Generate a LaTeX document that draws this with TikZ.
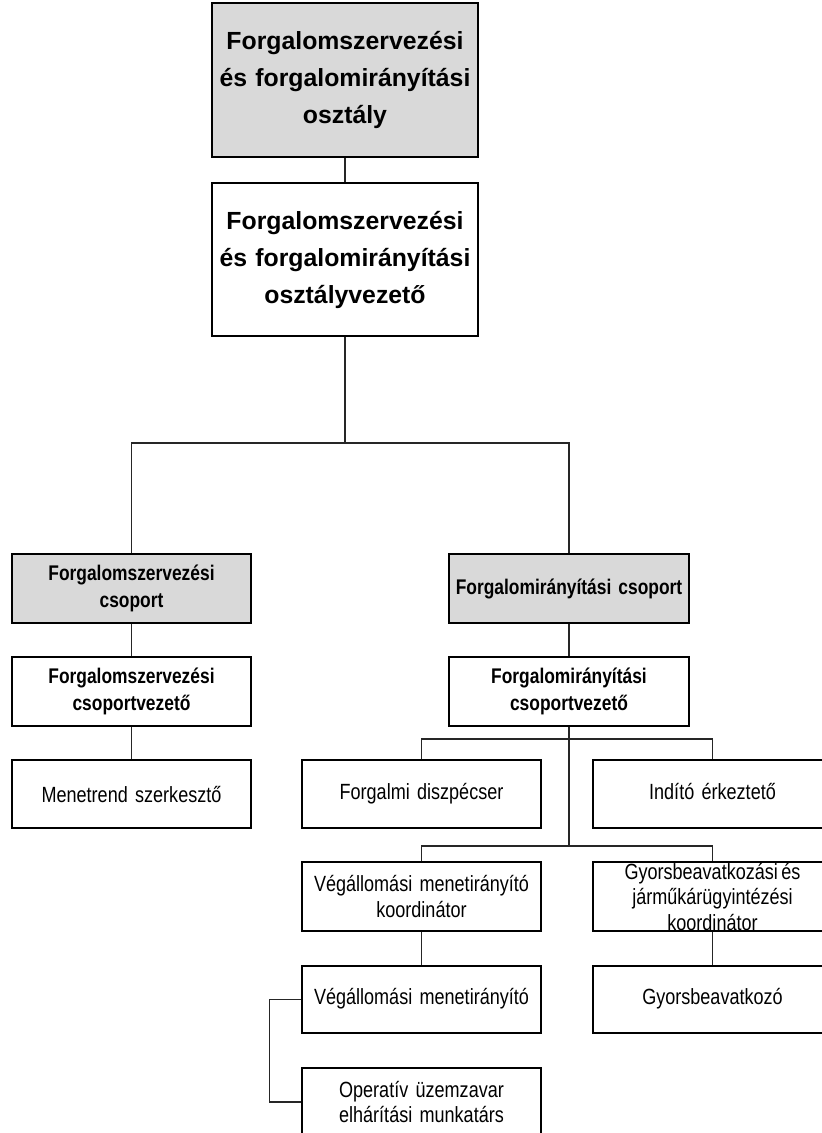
\documentclass[tikz,border=0pt]{standalone}
\usepackage{fontspec}
\setmainfont{Liberation Sans}
\newfontfamily\narrowfont[FakeStretch=0.82,WordSpace=0.7]{Liberation Sans}
\definecolor{boxgray}{HTML}{D9D9D9}
\definecolor{linegray}{HTML}{262626}
\begin{document}
\begin{tikzpicture}[x=1pt,y=-1pt,
  box/.style={draw=black,line width=1.1pt,rectangle,inner sep=0pt,align=center,text=black},
  graybox/.style={box,fill=boxgray},
  topfont/.style={font=\fontsize{24.8}{37}\selectfont\bfseries},
  grpfont/.style={font=\narrowfont\fontsize{21.2}{27}\selectfont\bfseries},
  smallfont/.style={font=\narrowfont\fontsize{22}{25.5}\selectfont},
  bigbox/.style={minimum width=266pt,text width=262pt},
  midbox/.style={minimum width=239pt,text width=235pt,minimum height=69pt},
  conn/.style={draw=linegray,line width=1.1pt}
]
\useasboundingbox (0,0) rectangle (822,1133);
\clip (0,0) rectangle (822,1133);

% top
\node[graybox,bigbox,topfont,minimum height=154pt] (top) at (345,80)
  {Forgalomszervezési\\és forgalomirányítási\\osztály};
\node[box,bigbox,topfont,minimum height=153pt] (mgr) at (345,259.5)
  {Forgalomszervezési\\és forgalomirányítási\\osztályvezető};

% left branch
\node[graybox,midbox,grpfont] (lg) at (131.5,588.5) {Forgalomszervezési\\csoport};
\node[box,midbox,grpfont] (lm) at (131.5,691.5) {Forgalomszervezési\\csoportvezető};
\node[box,midbox,smallfont,minimum height=68pt] (men) at (131.5,794) {Menetrend szerkesztő};

% right branch
\node[graybox,midbox,grpfont,minimum width=240pt] (rg) at (569,588.5) {Forgalomirányítási csoport};
\node[box,midbox,grpfont,minimum width=240pt] (rm) at (569,691.5) {Forgalomirányítási\\csoportvezető};

\node[box,midbox,smallfont,minimum height=68pt] (fd) at (421.5,794) {Forgalmi diszpécser\strut};
\node[box,midbox,smallfont,minimum height=68pt] (ie) at (712.5,794) {Indító érkeztető\strut};

\node[box,midbox,smallfont] (vk) at (421.5,896.5) {Végállomási menetirányító\\koordinátor};
\node[box,midbox,label={[smallfont,align=center,inner sep=0pt]center:{Gyorsbeavatkozási és\\járműkárügyintézési\\koordinátor}}] (gk) at (712.5,896.5) {};

\node[box,midbox,smallfont,minimum height=67pt] (vm) at (421.5,999.5) {Végállomási menetirányító\strut};
\node[box,midbox,smallfont,minimum height=67pt] (gb) at (712.5,999.5) {Gyorsbeavatkozó\strut};

\node[box,midbox,smallfont,minimum height=68pt] (op) at (421.5,1102) {Operatív üzemzavar\\elhárítási munkatárs};

% junctions
\coordinate (j1) at (345,443);
\coordinate (j2) at (569,739);
\coordinate (j3) at (569,846);

% connectors
\draw[conn] (top.south) -- (mgr.north);
\draw[conn] (mgr.south) -- (j1);
\draw[conn] (lg.north) |- (j1) -| (rg.north);
\draw[conn] (lg.south) -- (lm.north);
\draw[conn] (lm.south) -- (men.north);
\draw[conn] (rg.south) -- (rm.north);
\draw[conn] (rm.south) -- (j3);
\draw[conn] (fd.north) |- (j2) -| (ie.north);
\draw[conn] (vk.north) |- (j3) -| (gk.north);
\draw[conn] (vk.south) -- (vm.north);
\draw[conn] (gk.south) -- (gb.north);
\draw[conn] (vm.west) -- ++(-32,0) |- (op.west);
\end{tikzpicture}
\end{document}
